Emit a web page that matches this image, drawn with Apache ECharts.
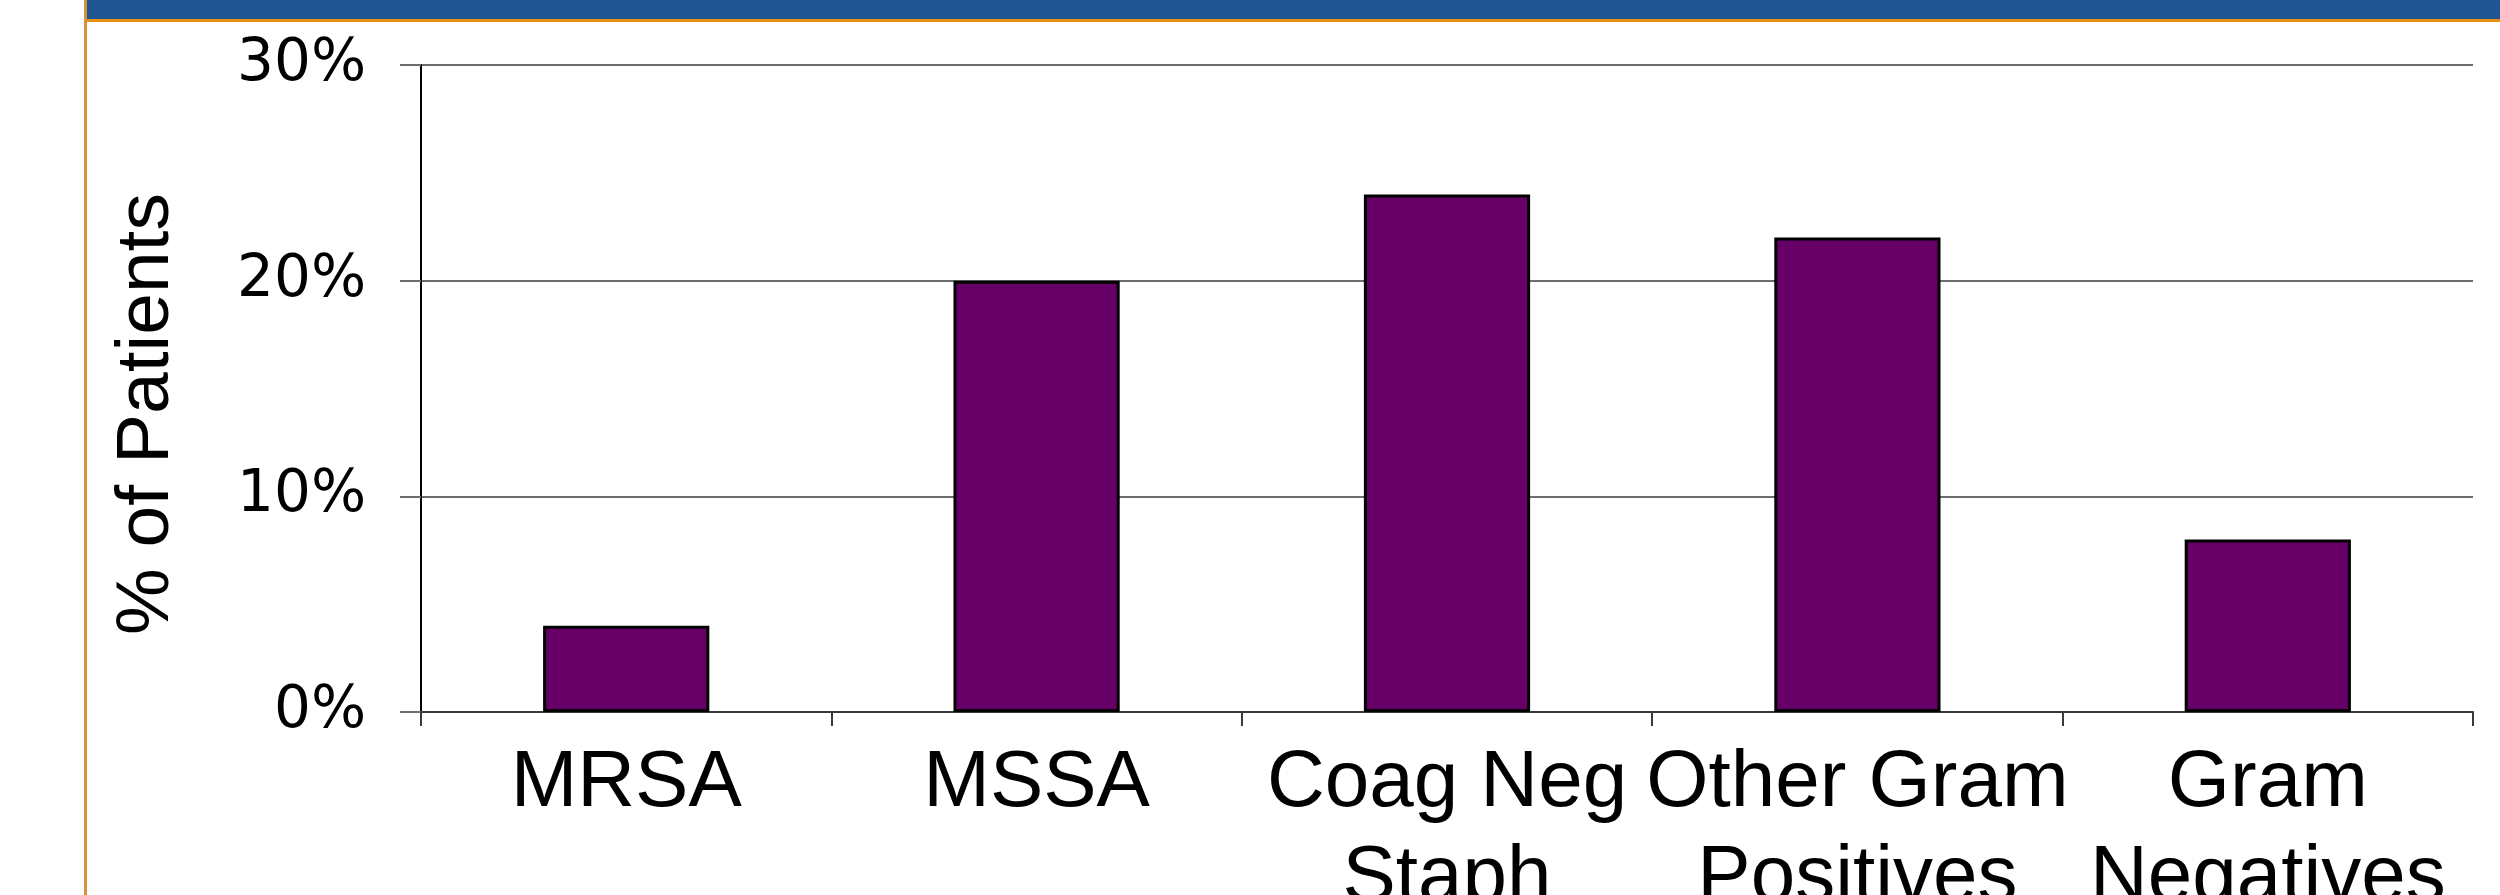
<!DOCTYPE html>
<html>
<head>
<meta charset="utf-8">
<script src="https://cdn.jsdelivr.net/npm/echarts@6/dist/echarts.min.js"></script>
<style>
  html, body { margin: 0; padding: 0; background: #ffffff; }
  #chart { width: 2500px; height: 895px; }
</style>
</head>
<body>
<div id="chart"></div>
<script>
// Organism categories on the x axis
const categories = ['MRSA', 'MSSA', 'Coag Neg\nStaph', 'Other Gram\nPositives', 'Gram\nNegatives'];
// Share of patients per organism, in percent
const patientPct = [4, 20, 24, 22, 8];
// Value axis range and step, in percent
const yMin = 0;
const yMax = 30;
const yStep = 10;
const yAxisTitle = '% of Patients';

const chart = echarts.init(document.getElementById('chart'), null, { renderer: 'canvas' });

chart.setOption({
  animation: false,
  backgroundColor: '#ffffff',
  grid: {
    left: 421,
    right: 27,
    top: 65,
    bottom: 183,
    containLabel: false,
    outerBoundsMode: 'none'
  },
  xAxis: {
    type: 'category',
    data: categories,
    boundaryGap: true,
    axisLine: { show: true, lineStyle: { color: '#3a3a3a', width: 2 } },
    axisTick: { show: true, alignWithLabel: false, length: 14, lineStyle: { color: '#3a3a3a', width: 2 } },
    axisLabel: {
      interval: 0,
      margin: 24,
      color: '#000000',
      fontFamily: 'Liberation Sans, Arial, sans-serif',
      fontSize: 80,
      lineHeight: 95,
      align: 'center'
    },
    splitLine: { show: false }
  },
  yAxis: {
    type: 'value',
    min: yMin,
    max: yMax,
    interval: yStep,
    axisLine: { show: true, lineStyle: { color: '#000000', width: 2 } },
    axisTick: { show: true, length: 21, lineStyle: { color: '#6e6e6e', width: 2 } },
    axisLabel: {
      margin: 55,
      color: '#000000',
      fontFamily: 'DejaVu Sans, sans-serif',
      fontSize: 58,
      padding: [10, 0, 0, 0],
      formatter: '{value}%'
    },
    splitLine: { show: true, lineStyle: { color: '#6e6e6e', width: 2 } }
  },
  series: [{
    type: 'bar',
    data: patientPct,
    barWidth: '40.5%',
    itemStyle: {
      color: '#660066',
      borderColor: '#000000',
      borderWidth: 3
    },
    z: 3
  }],
  graphic: [
    // header band across the top
    { type: 'rect', shape: { x: 86, y: 0, width: 2414, height: 19 }, style: { fill: '#1f5592' }, z: 10 },
    { type: 'rect', shape: { x: 85, y: 19, width: 2415, height: 3 }, style: { fill: '#e88e14' }, z: 10 },
    // left accent rule
    { type: 'rect', shape: { x: 84, y: 0, width: 3, height: 895 }, style: { fill: '#d8913a' }, z: 10 },
    // value axis title
    {
      type: 'text',
      x: 147,
      y: 414,
      rotation: Math.PI / 2,
      style: {
        text: yAxisTitle,
        fill: '#000000',
        font: '75px "Liberation Sans", Arial, sans-serif',
        align: 'center',
        verticalAlign: 'middle'
      },
      z: 10
    }
  ]
});
</script>
</body>
</html>
